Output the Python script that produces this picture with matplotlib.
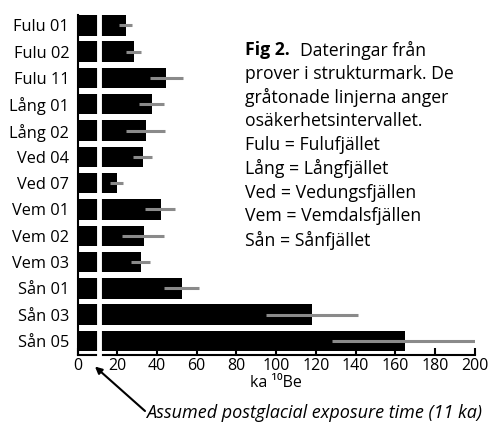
import matplotlib
matplotlib.use("Agg")
import matplotlib.pyplot as plt
import numpy as np

plt.rcParams['font.family'] = ['Open Sans', 'DejaVu Sans']

samples = ["Fulu 01", "Fulu 02", "Fulu 11", "Lång 01", "Lång 02", "Ved 04", "Ved 07",
           "Vem 01", "Vem 02", "Vem 03", "Sån 01", "Sån 03", "Sån 05"]
ages = [24.2, 28.4, 44.8, 37.4, 34.5, 33.0, 19.9, 41.9, 33.3, 32.0, 52.7, 118.0, 164.8]
err_low = [20.7, 24.6, 36.7, 30.8, 24.2, 27.9, 16.2, 34.2, 22.4, 26.8, 43.6, 95.0, 128.0]
err_high = [27.3, 32.0, 52.9, 43.4, 44.1, 37.4, 22.9, 49.0, 43.8, 36.5, 61.3, 141.0, 200.0]
xticks = [0, 20, 40, 60, 80, 100, 120, 140, 160, 180, 200]
postglacial = 11

caption_lines = ["prover i strukturmark. De", "gråtonade linjerna anger",
                 "osäkerhetsintervallet.", "Fulu = Fulufjället", "Lång = Långfjället",
                 "Ved = Vedungsfjällen", "Vem = Vemdalsfjällen", "Sån = Sånfjället"]

fig = plt.figure(figsize=(4.9, 4.28), dpi=100)
ax = fig.add_axes([77.5/490, 73/428, 397.2/490, 340/428])

y = np.arange(len(samples))
ax.barh(y, ages, height=0.78, color='black', zorder=2)
for yi, lo, hi in zip(y, err_low, err_high):
    ax.plot([lo, hi], [yi, yi], color='#8a8a8a', lw=2.2, solid_capstyle='butt', zorder=3)

ax.set_ylim(12.53, -0.39)
ax.set_xlim(0, 200)
ax.set_yticks(y)
ax.set_yticklabels(samples, fontsize=11.8)
ax.set_xticks(xticks)
ax.set_xticklabels([str(t) for t in xticks], fontsize=11.5)
ax.tick_params(axis='y', length=0, pad=6)
ax.tick_params(axis='x', direction='in', length=5, width=1.5, pad=2)
for s in ['top', 'right']:
    ax.spines[s].set_visible(False)
for s in ['left', 'bottom']:
    ax.spines[s].set_linewidth(1.5)
ax.set_xlabel("ka ¹⁰Be", fontsize=11.5, labelpad=1)

ax.axvline(postglacial, ymin=-0.02, ymax=1, color='white', lw=3.5, zorder=6, clip_on=False)

ax.annotate("", xy=(8.8, -0.034), xycoords=ax.get_xaxis_transform(),
            xytext=(145/490, 1 - 411/428), textcoords='figure fraction',
            arrowprops=dict(arrowstyle='-|>', color='black', lw=1.5, mutation_scale=10,
                            shrinkA=0, shrinkB=0))
fig.text(146/490, 1 - 413/428, "Assumed postglacial exposure time (11 ka)",
         fontsize=13, style='italic', va='center', ha='left')

tx = 245/490
fig.text(tx, 1 - 50/428, "Fig 2.", fontsize=12.7, fontweight='bold', va='center')
fig.text(300/490, 1 - 50/428, "Dateringar från", fontsize=12.7, va='center')
for i, line in enumerate(caption_lines):
    fig.text(tx, 1 - (50 + 23.75*(i+1))/428, line, fontsize=12.7, va='center')

fig.savefig("out.png", dpi=100)
